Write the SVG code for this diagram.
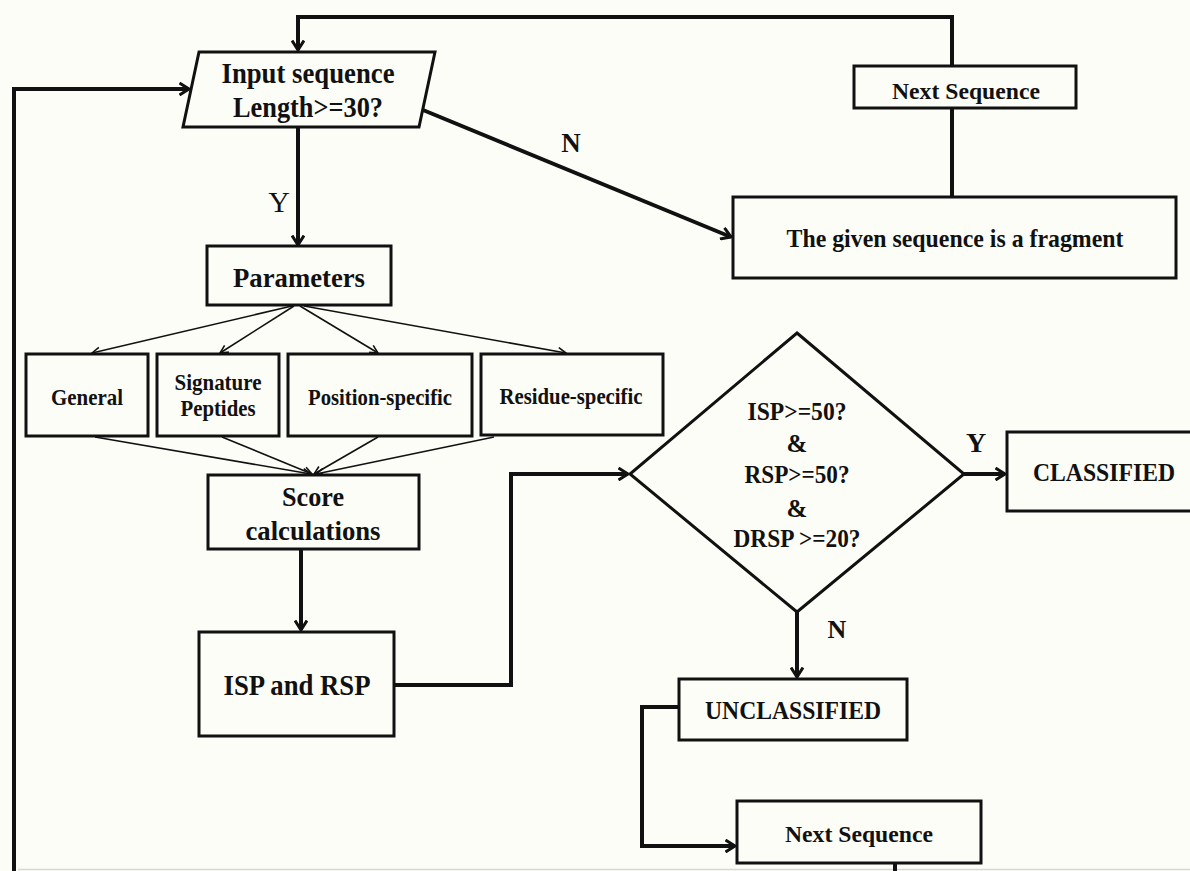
<svg xmlns="http://www.w3.org/2000/svg" width="1190" height="871" viewBox="0 0 1190 871">
<style>
.bx{fill:#fdfdf8;stroke:#111;stroke-width:3}
.t{font-family:"Liberation Serif","Times New Roman",serif;font-weight:bold;fill:#111;text-anchor:middle}
.r{font-family:"Liberation Serif","Times New Roman",serif;fill:#111;text-anchor:middle}
.thick{fill:none;stroke:#111;stroke-width:4;stroke-linejoin:miter}
.thin{fill:none;stroke:#111;stroke-width:1.6}
</style>
<defs>
<marker id="ah" viewBox="0 0 12 14" refX="10.5" refY="7" markerWidth="12" markerHeight="14" markerUnits="userSpaceOnUse" orient="auto">
<path d="M1,1 L10.5,7 L1,13" fill="none" stroke="#111" stroke-width="3"/>
</marker>
<marker id="at" viewBox="0 0 10 10" refX="9" refY="5" markerWidth="10" markerHeight="10" markerUnits="userSpaceOnUse" orient="auto">
<path d="M1,1 L9,5 L1,9" fill="none" stroke="#111" stroke-width="1.6"/>
</marker>
</defs>
<rect x="0" y="0" width="1190" height="871" fill="#fdfdf8"/>
<line x1="18" y1="869.5" x2="1190" y2="869.5" stroke="#d8d8d8" stroke-width="1.5"/>

<g id="connectors">
<path class="thick" d="M952,197 V108"/>
<path class="thick" d="M952,65 V17 H298 V50" marker-end="url(#ah)"/>
<path class="thick" d="M895,863 V875"/>
<path class="thick" d="M14,875 V89 H189" marker-end="url(#ah)"/>
<path class="thick" d="M298,127 V245" marker-end="url(#ah)"/>
<path class="thick" d="M423,110 L731,237" marker-end="url(#ah)"/>
<path class="thin" d="M292,306 L92,353" marker-end="url(#at)"/>
<path class="thin" d="M294,306 L220,353" marker-end="url(#at)"/>
<path class="thin" d="M300,306 L378,353" marker-end="url(#at)"/>
<path class="thin" d="M304,306 L566,353" marker-end="url(#at)"/>
<path class="thin" d="M95,437 L311,474" marker-end="url(#at)"/>
<path class="thin" d="M222,437 L312,474" marker-end="url(#at)"/>
<path class="thin" d="M378,437 L314,474" marker-end="url(#at)"/>
<path class="thin" d="M494,437 L316,474" marker-end="url(#at)"/>
<path class="thick" d="M301,550 V630" marker-end="url(#ah)"/>
<path class="thick" d="M394,685 H511 V474 H628" marker-end="url(#ah)"/>
<path class="thick" d="M964,474 H1005" marker-end="url(#ah)"/>
<path class="thick" d="M797,612 V677" marker-end="url(#ah)"/>
<path class="thick" d="M679,707 H642 V846 H735" marker-end="url(#ah)"/>
<text class="r" x="279" y="212" font-size="30">Y</text>
<text class="t" x="571" y="152" font-size="27">N</text>
<text class="t" x="976" y="452" font-size="28">Y</text>
<text class="t" x="837" y="638" font-size="26">N</text>
</g>

<g id="input">
<polygon class="bx" points="199,52 435,52 419,127 183,127"/>
<text class="t" x="308" y="83" font-size="30" textLength="173" lengthAdjust="spacingAndGlyphs">Input sequence</text>
<text class="t" x="308" y="117" font-size="30" textLength="150" lengthAdjust="spacingAndGlyphs">Length&gt;=30?</text>
</g>

<g id="next-top">
<rect class="bx" x="854" y="66" width="222" height="42"/>
<text class="t" x="966" y="99" font-size="24" textLength="148" lengthAdjust="spacingAndGlyphs">Next Sequence</text>
</g>

<g id="fragment">
<rect class="bx" x="733" y="197" width="443" height="81"/>
<text class="t" x="955" y="247" font-size="25" textLength="337" lengthAdjust="spacingAndGlyphs">The given sequence is a fragment</text>
</g>

<g id="parameters">
<rect class="bx" x="207" y="246" width="184" height="59"/>
<text class="t" x="299" y="287" font-size="28" textLength="132" lengthAdjust="spacingAndGlyphs">Parameters</text>
</g>

<g id="general">
<rect class="bx" x="26" y="354" width="122" height="82"/>
<text class="t" x="87" y="405" font-size="24" textLength="72" lengthAdjust="spacingAndGlyphs">General</text>
</g>

<g id="signature">
<rect class="bx" x="157" y="354" width="122" height="82"/>
<text class="t" x="218" y="390" font-size="24" textLength="87" lengthAdjust="spacingAndGlyphs">Signature</text>
<text class="t" x="218" y="416" font-size="24" textLength="75" lengthAdjust="spacingAndGlyphs">Peptides</text>
</g>

<g id="position">
<rect class="bx" x="288" y="354" width="184" height="82"/>
<text class="t" x="380" y="405" font-size="24" textLength="144" lengthAdjust="spacingAndGlyphs">Position-specific</text>
</g>

<g id="residue">
<rect class="bx" x="481" y="354" width="182" height="81"/>
<text class="t" x="571" y="404" font-size="24" textLength="143" lengthAdjust="spacingAndGlyphs">Residue-specific</text>
</g>

<g id="score">
<rect class="bx" x="208" y="475" width="211" height="74"/>
<text class="t" x="313" y="506" font-size="28" textLength="62" lengthAdjust="spacingAndGlyphs">Score</text>
<text class="t" x="313" y="540" font-size="28" textLength="135" lengthAdjust="spacingAndGlyphs">calculations</text>
</g>

<g id="isp-rsp">
<rect class="bx" x="199" y="632" width="195" height="104"/>
<text class="t" x="297" y="695" font-size="30" textLength="147" lengthAdjust="spacingAndGlyphs">ISP and RSP</text>
</g>

<g id="decision">
<polygon class="bx" points="797,333 964,474 797,612 630,474"/>
<text class="t" x="797" y="420" font-size="25" textLength="99" lengthAdjust="spacingAndGlyphs">ISP&gt;=50?</text>
<text class="t" x="797" y="452" font-size="25">&amp;</text>
<text class="t" x="797" y="483" font-size="25" textLength="105" lengthAdjust="spacingAndGlyphs">RSP&gt;=50?</text>
<text class="t" x="797" y="517" font-size="25">&amp;</text>
<text class="t" x="797" y="547" font-size="25" textLength="127" lengthAdjust="spacingAndGlyphs">DRSP &gt;=20?</text>
</g>

<g id="classified">
<rect class="bx" x="1007" y="432" width="190" height="79"/>
<text class="t" x="1104" y="481" font-size="26" textLength="142" lengthAdjust="spacingAndGlyphs">CLASSIFIED</text>
</g>

<g id="unclassified">
<rect class="bx" x="679" y="679" width="228" height="61"/>
<text class="t" x="793" y="719" font-size="26" textLength="176" lengthAdjust="spacingAndGlyphs">UNCLASSIFIED</text>
</g>

<g id="next-bottom">
<rect class="bx" x="737" y="801" width="244" height="62"/>
<text class="t" x="859" y="842" font-size="24" textLength="148" lengthAdjust="spacingAndGlyphs">Next Sequence</text>
</g>
</svg>
